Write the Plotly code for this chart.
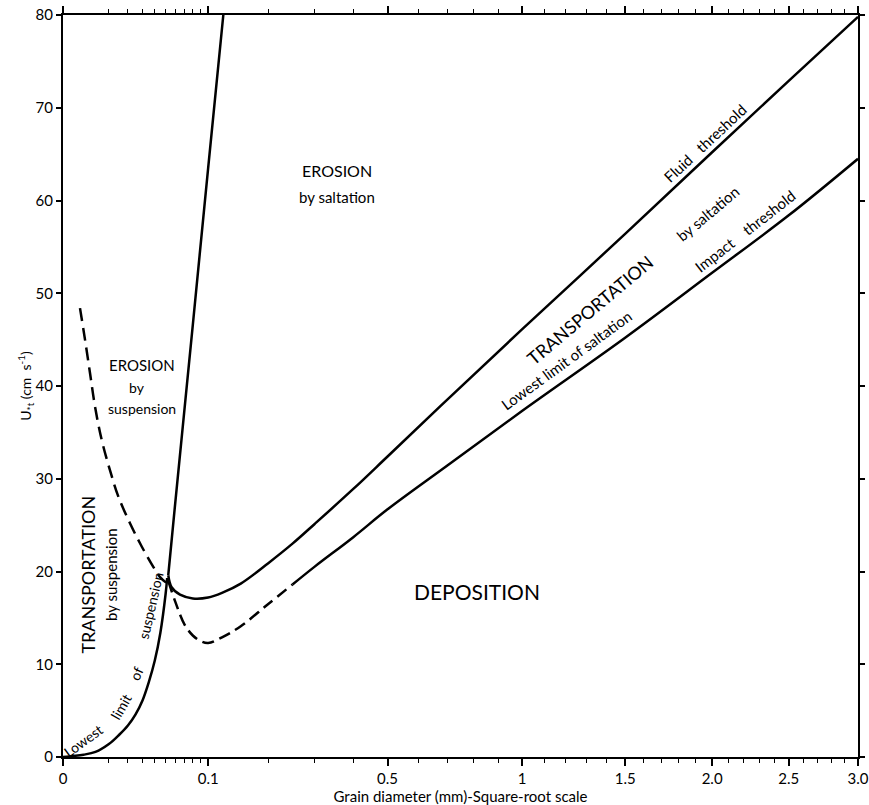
import numpy as np
import plotly.graph_objects as go

# ---------------- data (grain diameter in mm, threshold velocity U*t in cm/s) -------------
# Lowest limit of suspension (solid, rising from origin to the cusp)
susp_limit_d = [0.0, 0.002, 0.005, 0.01, 0.015, 0.02, 0.025, 0.03, 0.035, 0.04, 0.045, 0.05, 0.0515]
susp_limit_u = [0.0, 0.25, 0.55, 1.4, 2.4, 3.4, 4.6, 6.1, 8.1, 10.4, 13.4, 17.6, 19.3]

# Upper boundary of erosion by suspension (dashed, left)
susp_erosion_d = [0.00137, 0.0023, 0.00346, 0.00486, 0.0071, 0.0105, 0.0145, 0.0213, 0.0294, 0.0387, 0.0447, 0.0505]
susp_erosion_u = [48.4, 45.0, 41.4, 37.8, 34.2, 30.9, 28.1, 25.2, 22.7, 20.5, 19.4, 18.8]

# Steep boundary between erosion by suspension and erosion by saltation (solid)
steep_d = [0.0526, 0.06, 0.08, 0.1, 0.122]
steep_u = [19.6, 27.6, 46.6, 63.5, 80.0]

# Fluid threshold (solid)
fluid_d = [0.0526, 0.056, 0.065, 0.08, 0.1, 0.12, 0.15, 0.2, 0.25, 0.3, 0.4, 0.5, 0.7,
           1.0, 1.5, 2.0, 2.5, 3.0]
fluid_u = [19.6, 18.3, 17.5, 17.1, 17.2, 17.7, 18.7, 20.9, 23.0, 25.1, 28.9, 32.4, 38.5,
           46.1, 56.4, 65.2, 72.9, 79.8]

# Impact threshold / lowest limit of saltation: dashed part then solid part
impact_dash_d = [0.0526, 0.06, 0.07, 0.08, 0.09, 0.1, 0.12, 0.15, 0.2, 0.25]
impact_dash_u = [19.0, 16.7, 14.3, 13.1, 12.5, 12.3, 12.9, 14.1, 16.5, 18.6]
impact_solid_d = [0.25, 0.3, 0.4, 0.5, 0.7, 1.0, 1.5, 2.0, 2.5, 3.0]
impact_solid_u = [18.6, 20.5, 23.7, 26.7, 31.4, 37.3, 45.2, 52.2, 58.4, 64.5]

# Axis ticks
x_tick_values = [0, 0.1, 0.5, 1, 1.5, 2.0, 2.5, 3.0]
x_tick_labels = ["0", "0.1", "0.5", "1", "1.5", "2.0", "2.5", "3.0"]
x_minor_values = [0.01, 0.02, 0.03, 0.04, 0.05, 0.06, 0.07, 0.08, 0.09,
                  0.2, 0.3, 0.4, 0.6, 0.7, 0.8, 0.9,
                  1.1, 1.2, 1.3, 1.4, 1.6, 1.7, 1.8, 1.9,
                  2.1, 2.2, 2.3, 2.4, 2.6, 2.7, 2.8, 2.9]
y_tick_values = [0, 10, 20, 30, 40, 50, 60, 70, 80]

FONT = "Lato"
LW = 2.5


def sx(d):
    """square-root scale of the grain diameter axis"""
    return np.sqrt(np.asarray(d, dtype=float))


fig = go.Figure()

def add_line(d, u, dash="solid"):
    fig.add_trace(go.Scatter(x=sx(d), y=u, mode="lines",
                             line=dict(color="black", width=LW, dash=dash, shape="spline", smoothing=1.0),
                             showlegend=False, hoverinfo="skip"))

add_line(susp_limit_d, susp_limit_u)
add_line(susp_erosion_d, susp_erosion_u, dash="13px,7px")
add_line(steep_d, steep_u)
add_line(fluid_d, fluid_u)
add_line(impact_dash_d, impact_dash_u, dash="12px,6px")
add_line(impact_solid_d, impact_solid_u)

annotations = []

def ann(text, s, u, angle=0, size=14):
    annotations.append(dict(x=s, y=u, xref="x", yref="y", text=text, showarrow=False,
                            textangle=angle, xanchor="center", yanchor="middle",
                            font=dict(family=FONT, size=size, color="black")))

ann("EROSION", 0.596, 63.2, size=16)
ann("by saltation", 0.596, 60.4, size=15)
ann("EROSION", 0.1715, 42.3, size=15)
ann("by", 0.1606, 39.8, size=14)
ann("suspension", 0.1715, 37.6, size=14)
ann("DEPOSITION", 0.9013, 17.8, size=21)
ann("TRANSPORTATION", 0.0551, 19.7, angle=-90, size=18)
ann("by suspension", 0.1061, 19.6, angle=-90, size=15)
ann("Lowest", 0.0445, 1.8, angle=-36, size=14)
ann("limit", 0.1270, 5.4, angle=-60, size=14)
ann("of", 0.160, 9.0, angle=-66, size=14)
ann("suspension", 0.1915, 16.3, angle=-77, size=14)
ann("Fluid   threshold", 1.3987, 66.2, angle=-43, size=15)
ann("TRANSPORTATION", 1.148, 48.2, angle=-40, size=18)
ann("by saltation", 1.406, 58.6, angle=-40, size=15)
ann("Lowest limit of saltation", 1.097, 42.8, angle=-36, size=15)
ann("Impact    threshold", 1.486, 56.7, angle=-38, size=15)

fig.update_layout(
    width=869, height=805,
    margin=dict(l=63, r=11, t=15, b=48),
    paper_bgcolor="white", plot_bgcolor="white",
    font=dict(family=FONT, size=15, color="black"),
    annotations=annotations,
    xaxis=dict(
        range=[0, float(np.sqrt(3.0))],
        tickmode="array", tickvals=sx(x_tick_values), ticktext=x_tick_labels,
        ticks="outside", ticklen=7, tickwidth=1.5, tickcolor="black",
        showline=True, linewidth=2, linecolor="black", mirror="ticks",
        showgrid=False, zeroline=False,
        tickfont=dict(family=FONT, size=15),
        minor=dict(tickmode="array", tickvals=sx(x_minor_values), ticks="outside",
                   ticklen=4, tickwidth=1, tickcolor="black", showgrid=False),
        title=dict(text="Grain diameter (mm)-Square-root scale", standoff=0,
                   font=dict(family=FONT, size=15)),
        automargin=False,
    ),
    yaxis=dict(
        range=[0, 80], tickmode="array", tickvals=y_tick_values,
        ticks="outside", ticklen=5, tickwidth=1.5, tickcolor="black",
        showline=True, linewidth=2, linecolor="black", mirror="ticks",
        showgrid=False, zeroline=False,
        tickfont=dict(family=FONT, size=15),
        title=dict(text="U<sub>*t</sub> (cm  s<sup>-1</sup>)", standoff=0,
                   font=dict(family=FONT, size=14)),
        automargin=False,
    ),
)

# remove the default page margin so the 869x805 figure fills the window exactly
fig.write_html("out.html", config={"displayModeBar": False},
               post_script="document.body.style.margin='0px';")
